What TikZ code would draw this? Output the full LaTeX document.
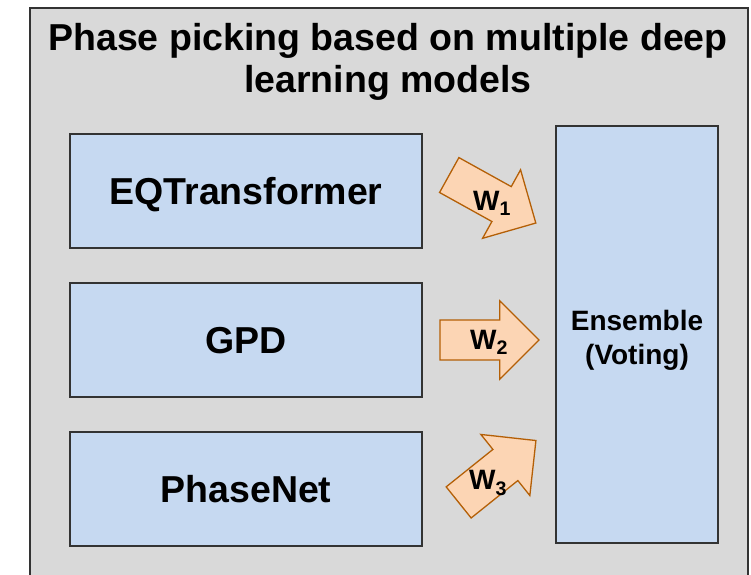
\documentclass[tikz,border=0pt]{standalone}
\usepackage{fontspec}
\setmainfont{Liberation Sans}
\usetikzlibrary{shapes.arrows,positioning}
\definecolor{ppgrey}{HTML}{D9D9D9}
\definecolor{ppblue}{HTML}{C6D9F1}
\definecolor{pporange}{HTML}{FCD5B4}
\definecolor{ppbrown}{HTML}{B45F06}
\definecolor{ppedge}{HTML}{333333}

\begin{document}
\begin{tikzpicture}[
  x=1pt, y=-1pt,
  model/.style={draw=ppedge, line width=2pt, fill=ppblue, minimum width=352pt, minimum height=114pt,
    inner sep=0pt, text depth=0pt, font=\fontsize{37.5}{44}\selectfont\bfseries},
  weight/.style={single arrow, draw=ppbrown, line width=1.3pt, fill=pporange, minimum height=99pt,
    inner xsep=0pt, inner ysep=19.3pt, single arrow head extend=19.2pt},
  wlabel/.style={font=\fontsize{28}{30}\selectfont\bfseries, inner sep=0pt},
]
\useasboundingbox (0,0) rectangle (751,574);
\clip (0,0) rectangle (751,574);
% grey frame, runs off the bottom edge
\node[draw=ppedge, line width=1.5pt, fill=ppgrey, minimum width=718pt, minimum height=590pt,
  inner sep=0pt, anchor=north west] (frame) at (29,7) {};
\node[font=\fontsize{37.5}{42}\selectfont\bfseries, align=center] (title) at (388,62)
  {Phase picking based on multiple deep\\learning models};

% the three pickers
\node[model] (eqt) at (246,191) {EQTransformer};
\node[model, below=33pt of eqt] (gpd) {GPD};
\node[model, below=33pt of gpd] (pnet) {PhaseNet};

% voting box
\node[model, minimum width=162pt, minimum height=417pt] (ens) at (637,334.5) {};
\node[font=\fontsize{28}{34}\selectfont\bfseries, align=center] (enslbl) at (637,340) {Ensemble\\(Voting)};

% weights
\node[weight, rotate=-29] (w1) at (483.8,194.2) {};
\node[weight] (w2) at (479.5,340) {};
\node[weight, rotate=38.7] (w3) at (489.5,477.7) {};
\node[wlabel] (w1lbl) at (492,203) {W\textsubscript{1}};
\node[wlabel] (w2lbl) at (489,342) {W\textsubscript{2}};
\node[wlabel] (w3lbl) at (488,483) {W\textsubscript{3}};
\end{tikzpicture}
\end{document}
